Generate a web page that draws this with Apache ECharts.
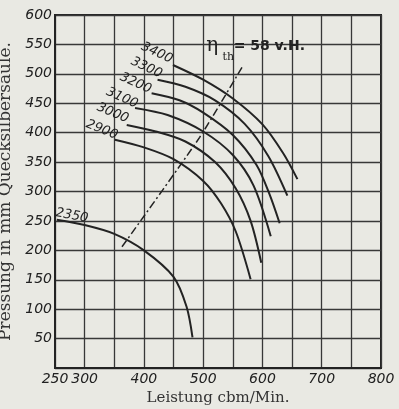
<!DOCTYPE html>
<html>
<head>
<meta charset="UTF-8">
<title>Pressung / Leistung</title>
<script src="https://cdn.jsdelivr.net/npm/echarts@6/dist/echarts.min.js"></script>
<style>
body { margin: 0; padding: 0; background: #e9e9e3; }
#main { width: 399px; height: 409px; }
</style>
</head>
<body>
<div id="main"></div>
<script>
// Drehzahlen (Kurvenbeschriftung)
var speeds = ['3400', '3300', '3200', '3100', '3000', '2900', '2350'];
var curve3400 = [[449,515],[500,490],[550,458],[600,414],[635,365],[659,321]];
var curve3300 = [[423,490],[470,478],[520,455],[570,415],[610,360],[642,293]];
var curve3200 = [[413,467],[460,455],[500,434],[550,396],[590,345],[612,295],[629,246]];
var curve3100 = [[385,442],[440,430],[500,402],[550,362],[585,310],[614,224]];
var curve3000 = [[371,413],[420,402],[470,385],[520,350],[555,305],[580,250],[598,179]];
var curve2900 = [[351,388],[400,375],[450,355],[500,318],[530,280],[555,232],[580,151]];
var curve2350 = [[253,252],[300,243],[350,228],[400,200],[450,155],[472,104],[482,52]];
var curves = [curve3400, curve3300, curve3200, curve3100, curve3000, curve2900, curve2350];
// Linie gleichen Wirkungsgrades
var etaLine = [[363,206],[494,392],[566,512]];
var xLabels = [250, 300, 400, 500, 600, 700, 800];

var ink = '#232323';
var chart = echarts.init(document.getElementById('main'));

var series = [];
for (var i = 0; i < curves.length; i++) {
	series.push({
		name: speeds[i],
		type: 'line',
		data: curves[i],
		smooth: 0.3,
		symbol: 'none',
		lineStyle: { color: ink, width: 2 }
	});
}
series.push({
	name: 'eta',
	type: 'line',
	data: etaLine,
	smooth: 0.2,
	symbol: 'none',
	lineStyle: { color: ink, width: 1.5, type: [8, 3, 2, 3] }
});

var option = {
	backgroundColor: '#e9e9e3',
	animation: false,
	grid: {
		left: 55, right: 18, top: 15, bottom: 41,
		containLabel: false, outerBoundsMode: 'none',
		show: true, borderColor: ink, borderWidth: 2
	},
	xAxis: {
		type: 'value', min: 250, max: 800, interval: 50,
		name: 'Leistung cbm/Min.', nameLocation: 'middle', nameGap: 19,
		nameTextStyle: { fontFamily: 'DejaVu Serif', fontSize: 15, color: '#333' },
		axisLine: { lineStyle: { color: ink, width: 2 } },
		axisTick: { show: false },
		splitLine: { lineStyle: { color: '#383838', width: 1.3 } },
		axisLabel: {
			fontFamily: 'DejaVu Sans', fontStyle: 'italic', fontSize: 14, color: '#222', margin: 4,
			formatter: function (v) { return xLabels.indexOf(v) >= 0 ? String(v) : ''; }
		}
	},
	yAxis: {
		type: 'value', min: 0, max: 600, interval: 50,
		name: 'Pressung in mm Quecksilbersäule.', nameLocation: 'middle', nameGap: 28,
		nameTextStyle: { fontFamily: 'DejaVu Serif', fontSize: 17, color: '#333' },
		axisLine: { lineStyle: { color: ink, width: 2 } },
		axisTick: { show: false },
		splitLine: { lineStyle: { color: '#383838', width: 1.3 } },
		axisLabel: {
			fontFamily: 'DejaVu Sans', fontStyle: 'italic', fontSize: 14, color: '#222', margin: 3,
			formatter: function (v) { return v === 0 ? '' : String(v); }
		}
	},
	series: series
};
chart.setOption(option);

// Beschriftungen an den Kurvenanfang haengen
var labelOffsets = [[-16,-12],[-11,-12],[-16,-10],[-13,-10],[-14,-12],[-13,-10],[15,-4]];
var labelRot = [-0.44, -0.44, -0.42, -0.42, -0.40, -0.38, -0.18];
var graphics = [];
for (var k = 0; k < curves.length; k++) {
	var p = chart.convertToPixel({ gridIndex: 0 }, curves[k][0]);
	graphics.push({
		type: 'text',
		x: p[0] + labelOffsets[k][0], y: p[1] + labelOffsets[k][1],
		rotation: labelRot[k],
		style: {
			text: speeds[k], fill: '#222', align: 'center', verticalAlign: 'middle',
			font: 'italic 13px "DejaVu Sans"'
		}
	});
}
var etaTop = chart.convertToPixel({ gridIndex: 0 }, etaLine[etaLine.length - 1]);
graphics.push({ type: 'text', x: etaTop[0] - 30, y: etaTop[1] - 21,
	style: { text: 'η', fill: '#222', align: 'center', verticalAlign: 'middle', font: '20px "DejaVu Serif"' } });
graphics.push({ type: 'text', x: etaTop[0] - 14, y: etaTop[1] - 10,
	style: { text: 'th', fill: '#222', align: 'center', verticalAlign: 'middle', font: '11px "DejaVu Serif"' } });
graphics.push({ type: 'text', x: etaTop[0] + 27, y: etaTop[1] - 20,
	style: { text: '= 58 v.H.', fill: '#222', align: 'center', verticalAlign: 'middle', font: 'bold 14px "DejaVu Sans"' } });
chart.setOption({ graphic: graphics });
</script>
</body>
</html>
